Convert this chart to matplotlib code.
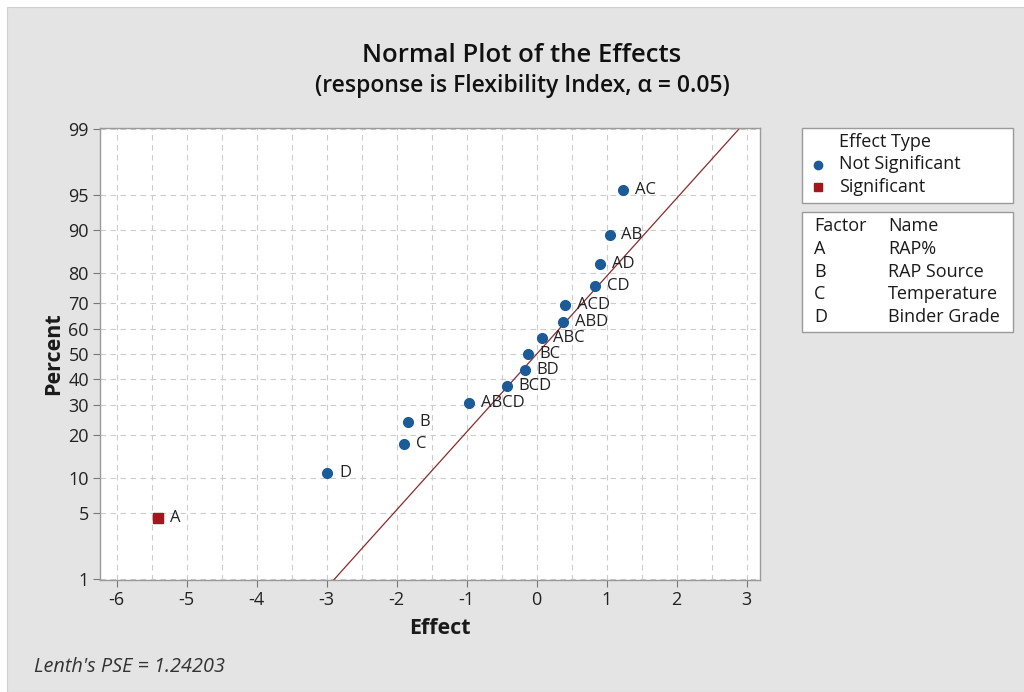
from statistics import NormalDist
import matplotlib.pyplot as plt
from matplotlib.patches import Rectangle

# effect estimates and their normal plot percentages
labels = ['A', 'D', 'C', 'B', 'ABCD', 'BCD', 'BD', 'BC', 'ABC', 'ABD', 'ACD', 'CD', 'AD', 'AB', 'AC']
effects = [-5.41, -2.99, -1.89, -1.84, -0.97, -0.43, -0.17, -0.13, 0.07, 0.38, 0.40, 0.83, 0.90, 1.04, 1.23]
percents = [4.5, 11.0, 17.5, 24.0, 30.5, 37.0, 43.5, 50.0, 56.5, 63.0, 69.5, 76.0, 82.5, 89.0, 95.5]
significant = [True] + [False] * 14
pse = 1.24203

factors = ['A', 'B', 'C', 'D']
factor_names = ['RAP%', 'RAP Source', 'Temperature', 'Binder Grade']

y_ticks = [1, 5, 10, 20, 30, 40, 50, 60, 70, 80, 90, 95, 99]

BLUE = '#1b5b97'
RED = '#a3161c'
LINE = '#8c2a2a'
BG = '#e4e4e4'

plt.rcParams['font.family'] = ['Open Sans', 'DejaVu Sans']
plt.rcParams['axes.unicode_minus'] = False

nd = NormalDist()
def z(p):
    return nd.inv_cdf(p / 100.0)

fig = plt.figure(figsize=(10.24, 6.92), dpi=100, facecolor='white')
fig.patches.append(Rectangle((7 / 1024, 0), 1, 1 - 7 / 692, transform=fig.transFigure,
                             facecolor=BG, edgecolor='#d0d0d0', lw=0.8, zorder=-10))

ax = fig.add_axes([100 / 1024, 1 - 580 / 692, 660 / 1024, 452 / 692])
ax.set_facecolor('white')
for s in ax.spines.values():
    s.set_color('#9a9a9a')
    s.set_linewidth(1.0)

# reference line through zero with slope from Lenth's PSE
zl = [z(0.5), z(99.5)]
ax.plot([pse * v for v in zl], zl, color=LINE, lw=0.9, zorder=2)

for lab, e, p, sig in zip(labels, effects, percents, significant):
    if sig:
        ax.plot(e, z(p), 's', color=RED, ms=7, zorder=3)
    else:
        ax.plot(e, z(p), 'o', color=BLUE, ms=7, zorder=3)
    ax.annotate(lab, (e, z(p)), xytext=(8.5, 0), textcoords='offset points',
                va='center', ha='left', fontsize=12, color='#222222', zorder=4)

ax.set_xticks(range(-6, 4))
ax.set_xticks([x + 0.5 for x in range(-7, 4)], minor=True)
ax.set_yticks([z(p) for p in y_ticks])
ax.set_yticklabels([str(p) for p in y_ticks])
ax.set_xlim(-6.24, 3.19)
ax.set_ylim(z(1) - 0.01, z(99) + 0.01)
ax.tick_params(axis='both', labelsize=13, color='#777777', length=5, labelcolor='#222222', pad=3)
ax.tick_params(axis='x', which='minor', length=0)
ax.grid(True, which='both', color='#cccccc', ls=(0, (5, 4)), lw=0.8)
ax.set_axisbelow(True)

ax.set_xlabel('Effect', fontsize=15.5, fontweight='bold', color='#1a1a1a')
ax.set_ylabel('Percent', fontsize=15.5, fontweight='bold', labelpad=3, color='#1a1a1a')
ax.xaxis.set_label_coords(0.515, -0.085)

fig.text(522 / 1024, 1 - 55 / 692, 'Normal Plot of the Effects', ha='center', va='center',
         fontsize=18.5, fontweight='semibold', color='#111111')
fig.text(522 / 1024, 1 - 86 / 692, '(response is Flexibility Index, \u03b1 = 0.05)', ha='center', va='center',
         fontsize=16.5, fontweight='semibold', color='#111111')
fig.text(34 / 1024, 1 - 667 / 692, "Lenth's PSE = 1.24203", ha='left', va='center',
         fontsize=14.3, style='italic', color='#333333')

# legend boxes on the right
def box(x0, y0, x1, y1):
    fig.patches.append(Rectangle((x0 / 1024, 1 - y1 / 692), (x1 - x0) / 1024, (y1 - y0) / 692,
                                 transform=fig.transFigure, facecolor='white',
                                 edgecolor='#9a9a9a', lw=1.0, zorder=1))

box(802, 128, 1013, 203)
box(802, 212, 1013, 332)

def ftext(x, y, s):
    fig.text(x / 1024, 1 - y / 692, s, ha='left', va='center', fontsize=13, color='#1a1a1a')

ftext(839, 142, 'Effect Type')
ftext(839, 164, 'Not Significant')
ftext(839, 187, 'Significant')
fig.lines.append(plt.Line2D([818 / 1024], [1 - 165 / 692], marker='o', color=BLUE, ms=6,
                            transform=fig.transFigure))
fig.lines.append(plt.Line2D([818 / 1024], [1 - 187 / 692], marker='s', color=RED, ms=5.5,
                            transform=fig.transFigure))

ftext(814, 226, 'Factor')
ftext(888, 226, 'Name')
for i, (f, n) in enumerate(zip(factors, factor_names)):
    ftext(814, 249 + i * 22.7, f)
    ftext(888, 249 + i * 22.7, n)

fig.savefig('out.png', dpi=100, facecolor=fig.get_facecolor())
